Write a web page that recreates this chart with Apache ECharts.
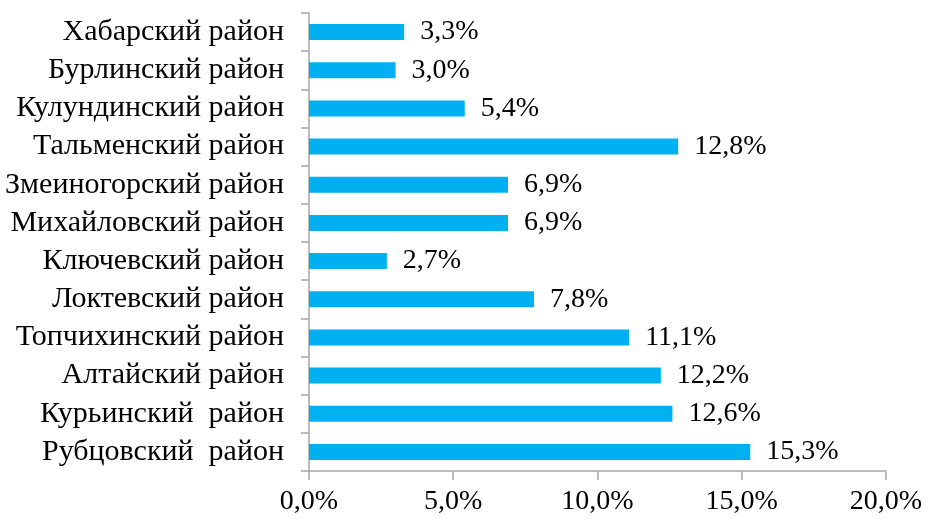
<!DOCTYPE html>
<html>
<head>
<meta charset="utf-8">
<script src="https://cdn.jsdelivr.net/npm/echarts@6/dist/echarts.min.js"></script>
<style>
  html, body { margin: 0; padding: 0; background: #fff; }
  #chart { width: 925px; height: 519px; }
</style>
</head>
<body>
<div id="chart"></div>
<script>
// bottom to top, as on the axis
var districts = [
    'Рубцовский  район',
    'Курьинский  район',
    'Алтайский район',
    'Топчихинский район',
    'Локтевский район',
    'Ключевский район',
    'Михайловский район',
    'Змеиногорский район',
    'Тальменский район',
    'Кулундинский район',
    'Бурлинский район',
    'Хабарский район'
];
var shares = [15.3, 12.6, 12.2, 11.1, 7.8, 2.7, 6.9, 6.9, 12.8, 5.4, 3.0, 3.3];
var xTicks = [0, 5, 10, 15, 20];

function pct(v) {
    return v.toFixed(1).replace('.', ',') + '%';
}

var font = '"Liberation Serif", "Times New Roman", serif';
var myChart = echarts.init(document.getElementById('chart'));
myChart.setOption({
    animation: false,
    grid: { left: 309, right: 38, top: 13, bottom: 48 },
    xAxis: {
        type: 'value',
        min: xTicks[0],
        max: xTicks[xTicks.length - 1],
        interval: 5,
        splitLine: { show: false },
        axisLine: { show: true, lineStyle: { color: '#a6a6a6', width: 1.5 } },
        axisTick: { show: true, length: 9, lineStyle: { color: '#a6a6a6', width: 1.5 } },
        axisLabel: {
            margin: 17,
            color: '#000',
            fontFamily: font,
            fontSize: 28,
            formatter: pct
        }
    },
    yAxis: {
        type: 'category',
        data: districts,
        axisLine: { show: true, lineStyle: { color: '#a6a6a6', width: 1.5 } },
        axisTick: { show: true, interval: 0, length: 8, lineStyle: { color: '#a6a6a6', width: 1.5 } },
        axisLabel: {
            interval: 0,
            margin: 25,
            color: '#000',
            fontFamily: font,
            fontSize: 30
        }
    },
    series: [{
        type: 'bar',
        data: shares,
        barWidth: 16,
        itemStyle: { color: '#00b0f0' },
        label: {
            show: true,
            position: 'right',
            distance: 16,
            color: '#000',
            fontFamily: font,
            fontSize: 28,
            formatter: function (p) { return pct(p.value); }
        }
    }]
});
</script>
</body>
</html>
